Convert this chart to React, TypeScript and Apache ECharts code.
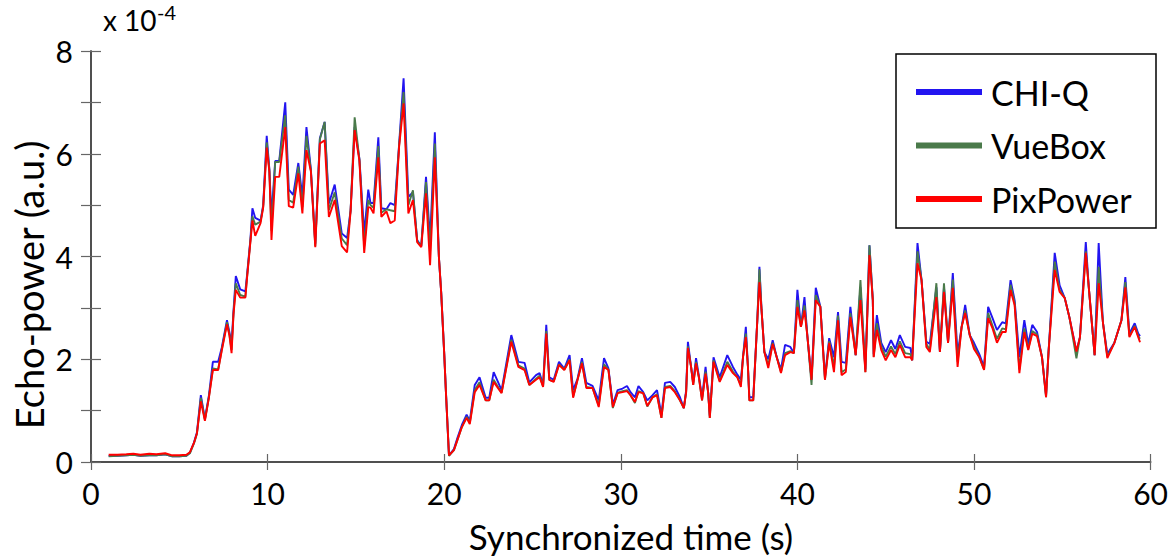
import React, { useEffect, useRef } from "react";
import * as echarts from "echarts";

// Time (s)
const times: number[] = [
  1.0, 1.5, 2.0, 2.4, 2.8, 3.3, 3.7, 4.2, 4.6, 5.0, 5.4, 5.6, 5.83, 6.0, 6.22, 6.45, 6.67, 6.9, 7.2, 7.4,
  7.7, 7.84, 7.96, 8.07, 8.2, 8.45, 8.74, 8.83, 9.03, 9.14, 9.3, 9.6, 9.75, 9.95, 10.1, 10.22, 10.43, 10.66, 11.0, 11.2,
  11.45, 11.74, 11.97, 12.2, 12.45, 12.7, 12.96, 13.23, 13.47, 13.8, 14.2, 14.5, 14.7, 14.93, 15.2, 15.47, 15.7, 15.83, 16.0, 16.27,
  16.44, 16.73, 16.95, 17.2, 17.45, 17.7, 17.97, 18.23, 18.47, 18.7, 18.97, 19.2, 19.47, 19.7, 19.83, 20.0, 20.1, 20.27, 20.55, 20.75,
  21.0, 21.27, 21.45, 21.73, 22.0, 22.35, 22.55, 22.8, 23.25, 23.8, 24.2, 24.55, 24.82, 25.2, 25.4, 25.6, 25.78, 25.95, 26.2, 26.5,
  26.8, 27.1, 27.3, 27.55, 27.8, 28.05, 28.4, 28.75, 29.05, 29.3, 29.55, 29.82, 30.1, 30.35, 30.55, 30.8, 31.0, 31.27, 31.5, 31.8,
  32.05, 32.3, 32.5, 32.8, 33.06, 33.35, 33.57, 33.7, 33.8, 33.98, 34.1, 34.26, 34.42, 34.6, 34.8, 34.95, 35.04, 35.25, 35.6, 36.03,
  36.35, 36.6, 36.8, 36.92, 37.08, 37.2, 37.28, 37.5, 37.73, 37.85, 37.97, 38.13, 38.35, 38.6, 38.83, 39.07, 39.3, 39.6, 39.8, 40.0,
  40.2, 40.4, 40.57, 40.8, 41.04, 41.3, 41.56, 41.8, 42.07, 42.3, 42.5, 42.74, 43.0, 43.3, 43.57, 43.85, 44.08, 44.27, 44.32, 44.5,
  44.75, 45.0, 45.3, 45.55, 45.8, 46.1, 46.4, 46.5, 46.8, 47.03, 47.3, 47.5, 47.87, 48.07, 48.3, 48.53, 48.8, 49.07, 49.3, 49.5,
  49.76, 50.0, 50.3, 50.57, 50.8, 51.05, 51.3, 51.6, 51.8, 52.07, 52.3, 52.57, 52.85, 53.07, 53.3, 53.57, 53.85, 54.08, 54.22, 54.57,
  54.85, 55.14, 55.4, 55.8, 56.0, 56.33, 56.5, 56.83, 57.06, 57.3, 57.55, 57.95, 58.35, 58.57, 58.8, 59.1, 59.3, 59.4,
];

// Echo-power (x 10^-4 a.u.)
const chiQ: number[] = [
  0.12, 0.12, 0.13, 0.14, 0.12, 0.13, 0.13, 0.15, 0.11, 0.11, 0.12, 0.18, 0.38, 0.58, 1.30, 0.84, 1.28, 1.95, 1.95, 2.22,
  2.76, 2.52, 2.30, 2.95, 3.62, 3.36, 3.32, 3.62, 4.35, 4.94, 4.75, 4.70, 5.00, 6.35, 5.70, 4.77, 5.86, 5.86, 7.00, 5.30,
  5.20, 5.82, 5.16, 6.52, 5.70, 4.25, 6.30, 6.62, 5.03, 5.40, 4.45, 4.36, 4.90, 6.52, 5.90, 4.45, 5.30, 5.04, 5.04, 6.32,
  4.94, 4.92, 5.04, 5.00, 6.20, 7.47, 5.16, 5.25, 4.32, 4.20, 5.55, 4.32, 6.42, 3.99, 3.30, 2.12, 1.35, 0.13, 0.25, 0.47,
  0.72, 0.92, 0.80, 1.50, 1.65, 1.25, 1.25, 1.75, 1.40, 2.47, 1.95, 1.93, 1.55, 1.69, 1.73, 1.50, 2.67, 1.65, 1.60, 1.95,
  1.82, 2.08, 1.40, 1.62, 2.02, 1.54, 1.48, 1.20, 2.02, 1.82, 1.12, 1.40, 1.43, 1.48, 1.36, 1.26, 1.48, 1.36, 1.20, 1.30,
  1.40, 0.92, 1.54, 1.56, 1.46, 1.26, 1.05, 1.40, 2.34, 1.85, 1.55, 2.02, 1.68, 1.25, 1.85, 1.34, 0.90, 2.04, 1.65, 2.08,
  1.85, 1.70, 1.60, 2.04, 2.63, 1.85, 1.26, 1.26, 2.76, 3.80, 2.96, 2.14, 2.00, 2.37, 2.04, 1.80, 2.28, 2.24, 2.12, 3.35,
  2.63, 3.21, 2.43, 1.60, 3.39, 3.02, 1.65, 2.41, 2.04, 2.92, 1.95, 1.93, 3.02, 2.08, 3.40, 1.80, 4.22, 3.15, 2.10, 2.86,
  2.32, 2.14, 2.37, 2.20, 2.47, 2.24, 2.22, 1.98, 4.26, 3.54, 2.34, 2.30, 3.40, 2.14, 3.40, 2.32, 3.68, 2.10, 2.63, 3.06,
  2.47, 2.32, 2.10, 1.85, 3.02, 2.80, 2.57, 2.72, 2.70, 3.54, 3.15, 2.04, 2.76, 2.30, 2.67, 2.53, 2.04, 1.30, 2.14, 4.07,
  3.44, 3.19, 2.82, 2.15, 2.43, 4.28, 3.40, 2.08, 4.26, 2.72, 2.10, 2.32, 2.76, 3.60, 2.50, 2.70, 2.50, 2.45,
];

const vueBox: number[] = [
  0.11, 0.12, 0.13, 0.14, 0.12, 0.13, 0.13, 0.15, 0.11, 0.11, 0.12, 0.17, 0.36, 0.55, 1.25, 0.82, 1.25, 1.82, 1.80, 2.18,
  2.72, 2.48, 2.18, 2.90, 3.48, 3.25, 3.22, 3.58, 4.32, 4.78, 4.62, 4.68, 4.97, 6.22, 5.68, 4.50, 5.84, 5.84, 6.75, 5.10,
  5.05, 5.75, 4.96, 6.35, 5.68, 4.20, 6.28, 6.62, 4.90, 5.25, 4.35, 4.22, 4.90, 6.71, 5.88, 4.20, 5.10, 5.00, 4.95, 6.15,
  4.85, 4.92, 4.90, 4.88, 6.18, 7.20, 5.00, 5.29, 4.30, 4.20, 5.45, 4.10, 6.20, 3.99, 3.30, 2.12, 1.34, 0.12, 0.23, 0.43,
  0.68, 0.88, 0.76, 1.40, 1.55, 1.20, 1.20, 1.60, 1.35, 2.38, 1.88, 1.82, 1.50, 1.62, 1.68, 1.47, 2.55, 1.60, 1.57, 1.90,
  1.80, 2.00, 1.27, 1.60, 1.95, 1.46, 1.44, 1.10, 1.90, 1.80, 1.05, 1.35, 1.38, 1.40, 1.30, 1.15, 1.38, 1.34, 1.08, 1.26,
  1.32, 0.86, 1.46, 1.48, 1.38, 1.20, 1.05, 1.36, 2.25, 1.85, 1.50, 1.95, 1.65, 1.20, 1.76, 1.34, 0.86, 1.98, 1.58, 1.95,
  1.76, 1.65, 1.50, 2.04, 2.50, 1.85, 1.20, 1.20, 2.76, 3.75, 2.96, 2.14, 1.88, 2.32, 2.04, 1.75, 2.12, 2.16, 2.12, 3.15,
  2.63, 3.05, 2.43, 1.50, 3.25, 3.02, 1.60, 2.35, 1.85, 2.85, 1.75, 1.80, 2.90, 2.08, 3.54, 1.75, 4.22, 3.15, 2.05, 2.70,
  2.25, 2.05, 2.25, 2.10, 2.35, 2.12, 2.10, 1.98, 4.10, 3.54, 2.30, 2.18, 3.48, 2.14, 3.48, 2.32, 3.55, 1.95, 2.63, 2.95,
  2.47, 2.25, 2.04, 1.80, 2.90, 2.65, 2.40, 2.60, 2.58, 3.45, 3.10, 1.80, 2.60, 2.20, 2.55, 2.48, 2.04, 1.26, 2.14, 3.90,
  3.35, 3.19, 2.82, 2.02, 2.43, 4.10, 3.40, 2.08, 3.80, 2.72, 2.05, 2.32, 2.76, 3.50, 2.45, 2.65, 2.45, 2.40,
];

const pixPower: number[] = [
  0.14, 0.14, 0.15, 0.16, 0.14, 0.16, 0.15, 0.17, 0.13, 0.13, 0.14, 0.19, 0.37, 0.56, 1.18, 0.80, 1.24, 1.79, 1.79, 2.16,
  2.68, 2.46, 2.12, 2.88, 3.35, 3.20, 3.20, 3.56, 4.30, 4.70, 4.40, 4.65, 4.95, 6.12, 5.65, 4.32, 5.55, 5.55, 6.52, 4.98,
  4.95, 5.62, 4.84, 6.07, 5.66, 4.18, 6.20, 6.26, 4.77, 5.10, 4.20, 4.08, 4.88, 6.46, 5.86, 4.07, 4.96, 4.95, 4.84, 5.93,
  4.77, 4.88, 4.65, 4.70, 6.15, 6.98, 4.84, 5.10, 4.28, 4.18, 5.23, 3.83, 5.93, 3.99, 3.29, 2.12, 1.34, 0.13, 0.23, 0.43,
  0.68, 0.86, 0.74, 1.36, 1.50, 1.20, 1.20, 1.56, 1.34, 2.34, 1.85, 1.79, 1.50, 1.60, 1.65, 1.46, 2.50, 1.60, 1.56, 1.89,
  1.79, 1.98, 1.25, 1.60, 1.92, 1.44, 1.44, 1.07, 1.85, 1.79, 1.07, 1.34, 1.36, 1.38, 1.30, 1.17, 1.36, 1.34, 1.09, 1.26,
  1.30, 0.86, 1.44, 1.46, 1.36, 1.20, 1.05, 1.36, 2.22, 1.85, 1.50, 1.92, 1.65, 1.20, 1.72, 1.34, 0.86, 1.95, 1.56, 1.89,
  1.73, 1.65, 1.46, 2.04, 2.43, 1.85, 1.20, 1.20, 2.76, 3.50, 2.96, 2.14, 1.83, 2.30, 2.04, 1.73, 2.08, 2.14, 2.12, 3.02,
  2.63, 2.95, 2.43, 1.60, 3.15, 3.02, 1.60, 2.32, 1.75, 2.76, 1.69, 1.75, 2.82, 2.08, 3.15, 1.75, 4.03, 3.15, 2.04, 2.57,
  2.18, 1.98, 2.18, 2.04, 2.28, 2.04, 2.04, 1.98, 3.87, 3.54, 2.24, 2.14, 3.21, 2.14, 3.31, 2.32, 3.39, 1.85, 2.63, 2.90,
  2.47, 2.20, 2.04, 1.79, 2.80, 2.60, 2.32, 2.53, 2.53, 3.35, 3.05, 1.73, 2.53, 2.18, 2.50, 2.45, 2.04, 1.26, 2.14, 3.74,
  3.31, 3.19, 2.82, 2.15, 2.43, 4.07, 3.40, 2.08, 3.48, 2.72, 2.02, 2.32, 2.76, 3.40, 2.43, 2.63, 2.43, 2.33,
];

const seriesNames = ["CHI-Q", "VueBox", "PixPower"];
const seriesColors = ["#2214f0", "#4a7a4a", "#ff0000"];
const xTicks = { min: 0, max: 60, interval: 10 };
const yTicks = { min: 0, max: 8, interval: 1 };

const FONT = "Lato";

export default function App() {
  const ref = useRef<HTMLDivElement>(null);
  useEffect(() => {
    if (!ref.current) return;
    const chart = echarts.init(ref.current, undefined, { renderer: "svg" });
    const n = Math.min(times.length, chiQ.length, vueBox.length, pixPower.length);
    const values = [chiQ, vueBox, pixPower];
    const axisLine = { show: true, lineStyle: { color: "#444", width: 1.5 } };
    const axisTick = { show: true, inside: true, length: 10, lineStyle: { color: "#666", width: 1.2 } };
    chart.setOption({
      animation: false,
      backgroundColor: "#fff",
      grid: { left: 91, right: 12, top: 51, bottom: 94, containLabel: false },
      xAxis: [
        {
          type: "value", position: "bottom", ...xTicks,
          axisLine, axisTick: { ...axisTick, length: 8 }, splitLine: { show: false },
          axisLabel: { fontFamily: FONT, fontSize: 30, color: "#000", margin: 16 },
        },
        {
          type: "value", position: "top", ...xTicks,
          axisLine, axisTick: { ...axisTick, length: 8 }, splitLine: { show: false },
          axisLabel: { show: false },
        },
      ],
      yAxis: [
        {
          type: "value", position: "left", ...yTicks,
          axisLine, axisTick, splitLine: { show: false },
          axisLabel: {
            fontFamily: FONT, fontSize: 30, color: "#000", margin: 18,
            formatter: (v: number) => (v % 2 === 0 ? String(v) : ""),
          },
        },
        {
          type: "value", position: "right", ...yTicks,
          axisLine, axisTick, splitLine: { show: false },
          axisLabel: { show: false },
        },
      ],
      legend: {
        data: seriesNames,
        orient: "vertical",
        left: 911,
        top: 67,
        icon: "rect",
        itemWidth: 66,
        itemHeight: 6,
        itemGap: 13.5,
        textStyle: { fontFamily: FONT, fontSize: 34, color: "#000", lineHeight: 40, padding: [0, 0, 0, 4] },
        selectedMode: false,
      },
      graphic: [
        {
          type: "rect", z: 0,
          shape: { x: 896, y: 54, width: 260, height: 174 },
          style: { fill: "#fff", stroke: "#000", lineWidth: 1.5 },
        },
        {
          type: "text", left: 103, top: 6,
          style: { text: "x 10", fontFamily: FONT, fontSize: 28, fill: "#000" },
        },
        {
          type: "text", left: 157, top: 2,
          style: { text: "-4", fontFamily: FONT, fontSize: 20, fill: "#000" },
        },
        {
          type: "text", x: 29, y: 285, rotation: Math.PI / 2,
          style: {
            text: "Echo-power (a.u.)", fontFamily: FONT, fontSize: 38, fill: "#000",
            align: "center", verticalAlign: "middle",
          },
        },
        {
          type: "text", x: 631, y: 536,
          style: {
            text: "Synchronized time (s)", fontFamily: FONT, fontSize: 35, fill: "#000",
            align: "center", verticalAlign: "middle",
          },
        },
      ],
      series: seriesNames.map((name, k) => ({
        name,
        type: "line",
        xAxisIndex: 0,
        yAxisIndex: 0,
        showSymbol: false,
        symbol: "none",
        color: seriesColors[k],
        lineStyle: { width: 1.9, color: seriesColors[k] },
        z: 2 + k,
        data: times.slice(0, n).map((t, i) => [t, values[k][i]]),
      })),
    });
    return () => chart.dispose();
  }, []);
  return (
    <div
      ref={ref}
      style={{ position: "fixed", left: 0, top: 0, width: 1171, height: 556, background: "#fff" }}
    />
  );
}
